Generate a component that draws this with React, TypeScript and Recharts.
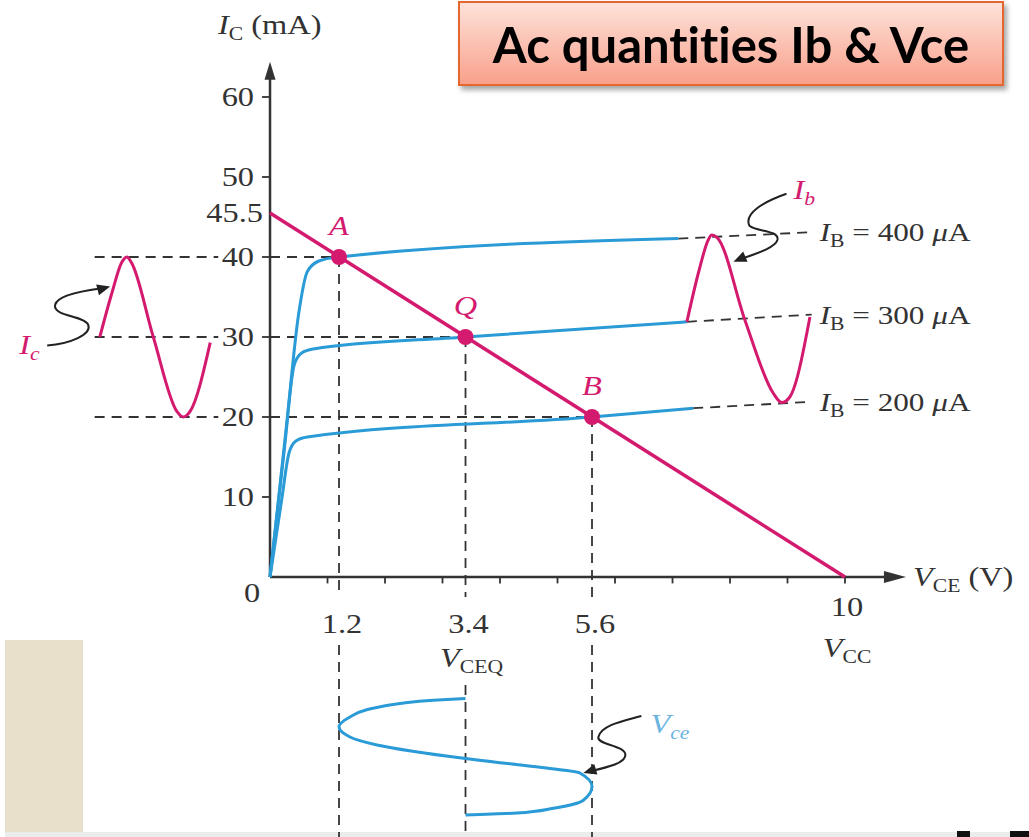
import React from "react";
import { ComposedChart, Line, XAxis, YAxis, ReferenceLine, ReferenceDot } from "recharts";

const W = 1029;
const H = 837;

// plot ranges in volts / milliamps; wide enough to hold the side waveforms
const vDomain: [number, number] = [-4.696, 13.2];
const iDomain: [number, number] = [-32.5, 72.125];

const yTicks = [10, 20, 30, 40, 50, 60];
const vTicks = [1, 2, 3, 4, 5, 6, 7, 8, 9, 10];
const vcc = 10;
const icSat = 45.5;

const loadLine = [
  { v: 0, i: icSat },
  { v: vcc, i: 0 },
];

const opPoints = [
  { name: "A", v: 1.2, i: 40 },
  { name: "Q", v: 3.4, i: 30 },
  { name: "B", v: 5.6, i: 20 },
];

// collector characteristics, one per base current
const ibLevels = [400, 300, 200];
const ib400 = [
  { v: 0, i: 0 }, { v: 0.28, i: 18.5 }, { v: 0.5, i: 33 }, { v: 0.65, i: 38.2 },
  { v: 0.85, i: 39.5 }, { v: 1.2, i: 40 }, { v: 7.1, i: 42.3 },
];
const ib300 = [
  { v: 0, i: 0 }, { v: 0.25, i: 16 }, { v: 0.42, i: 26.5 }, { v: 0.55, i: 28 },
  { v: 0.75, i: 28.5 }, { v: 3.4, i: 30 }, { v: 7.25, i: 31.9 },
];
const ib200 = [
  { v: 0, i: 0 }, { v: 0.2, i: 9.5 }, { v: 0.33, i: 15.5 }, { v: 0.45, i: 17 },
  { v: 0.65, i: 17.5 }, { v: 5.6, i: 20 }, { v: 7.36, i: 21.1 },
];
const ibCurves = [ib400, ib300, ib200];
const ibTails = [
  [{ v: 7.1, i: 42.3 }, { v: 9.42, i: 43.1 }],
  [{ v: 7.25, i: 31.9 }, { v: 9.42, i: 32.8 }],
  [{ v: 7.36, i: 21.1 }, { v: 9.42, i: 21.9 }],
];

// ac waveforms
const icWave = [
  { v: -2.96, i: 30 }, { v: -2.75, i: 35.5 }, { v: -2.58, i: 39.3 }, { v: -2.49, i: 40 },
  { v: -2.41, i: 39.3 }, { v: -2.03, i: 30 }, { v: -1.62, i: 20.7 }, { v: -1.51, i: 20 },
  { v: -1.39, i: 20.7 }, { v: -1.04, i: 29.3 },
];
const ibWave = [
  { v: 7.25, i: 31.9 }, { v: 7.45, i: 38 }, { v: 7.62, i: 42.1 }, { v: 7.68, i: 42.75 },
  { v: 7.78, i: 42.4 }, { v: 8.26, i: 32.1 }, { v: 8.75, i: 23 }, { v: 8.9, i: 21.8 },
  { v: 9.04, i: 22.5 }, { v: 9.39, i: 32.5 },
];
// drawn along the current axis (time runs downward)
const vceWave = [
  { v: 3.4, i: -29.75 }, { v: 4.29, i: -29.5 }, { v: 4.93, i: -28.9 }, { v: 5.45, i: -27.9 },
  { v: 5.6, i: -26.2 }, { v: 5.39, i: -24.5 }, { v: 4.58, i: -23.7 }, { v: 3.4, i: -22.7 },
  { v: 1.86, i: -21 }, { v: 1.39, i: -20 }, { v: 1.2, i: -18.7 }, { v: 1.39, i: -17.5 },
  { v: 1.68, i: -16.6 }, { v: 2.26, i: -15.8 }, { v: 2.84, i: -15.4 }, { v: 3.4, i: -15.2 },
];

const MAG = "#d41a6e";
const CYAN = "#2a9bd6";
const INK = "#333";
const DASH = "10 7";
const serif = "'Liberation Serif', 'Times New Roman', serif";
const SX = 1.2; // the serif lettering is set a little wide

const note = (key: string, v: number, i: number, draw: (x: number, y: number) => React.ReactElement) => (
  <ReferenceDot key={key} x={v} y={i} r={1} ifOverflow="visible" shape={(p: any) => draw(p.cx, p.cy)} />
);

// widened serif text anchored at (x, y)
const wide = (x: number, y: number, body: React.ReactNode, anchor: "start" | "middle" | "end" = "start", fill = INK, italic = false, size = 27) => (
  <g transform={`translate(${x},${y}) scale(${SX},1)`}>
    <text x={0} y={0} textAnchor={anchor} fontFamily={serif} fontSize={size} fill={fill} fontStyle={italic ? "italic" : undefined}>
      {body}
    </text>
  </g>
);

const sub = (s: string, italic = false) => (
  <tspan fontSize={18} dy={6} fontStyle={italic ? "italic" : "normal"}>{s}</tspan>
);

const seg = (key: string, a: { v: number; i: number }, b: { v: number; i: number }, dashed = true, color = INK, width = 1.8) => (
  <ReferenceLine
    key={key}
    segment={[{ x: a.v, y: a.i }, { x: b.v, y: b.i }]}
    stroke={color}
    strokeWidth={width}
    strokeDasharray={dashed ? DASH : undefined}
    ifOverflow="visible"
  />
);

const headPts = (dx: number, dy: number, len = 13, half = 5.5) => {
  const n = Math.hypot(dx, dy);
  const ux = dx / n;
  const uy = dy / n;
  const bx = -ux * len;
  const by = -uy * len;
  return `0,0 ${bx - uy * half},${by + ux * half} ${bx + uy * half},${by - ux * half}`;
};

// curly pointer from a label to a waveform; tip sits at the anchor
const pointer = (key: string, v: number, i: number, d: string, dir: [number, number], label: React.ReactElement) =>
  note(key, v, i, (x, y) => (
    <g transform={`translate(${x},${y})`}>
      <path d={d} fill="none" stroke="#222" strokeWidth={2} />
      <polygon points={headPts(dir[0], dir[1])} fill="#222" />
      {label}
    </g>
  ));

export default function App() {
  return (
    <div style={{ position: "absolute", left: 0, top: 0, width: W, height: H, background: "#fff", overflow: "hidden" }}>
      <div style={{ position: "absolute", left: 5, top: 640, width: 78, height: 192, background: "#e8e0cb" }} />
      <div style={{ position: "absolute", left: 5, top: 832, width: W - 5, height: 5, background: "#ececec" }} />
      <div style={{ position: "absolute", left: 957, top: 831, width: 13, height: 6, background: "#111" }} />
      <div style={{ position: "absolute", left: 1010, top: 831, width: 19, height: 6, background: "#111" }} />

      <ComposedChart width={W} height={H} margin={{ top: 0, right: 0, bottom: 0, left: 0 }} style={{ position: "absolute", left: 0, top: 0 }}>
        <XAxis type="number" dataKey="v" domain={vDomain} allowDataOverflow hide />
        <YAxis type="number" dataKey="i" domain={iDomain} allowDataOverflow hide />

        {/* guide lines to the axes */}
        {opPoints.map(p => seg(`hl${p.name}`, { v: 0, i: p.i }, p))}
        {opPoints.map(p => seg(`hw${p.name}`, { v: -3.05, i: p.i }, { v: -0.9, i: p.i }))}
        {opPoints.map(p => seg(`vu${p.name}`, p, { v: p.v, i: -2.5 }))}
        {opPoints.map(p => seg(`vd${p.name}`, { v: p.v, i: p.name === "Q" ? -13.5 : -8.5 }, { v: p.v, i: -32.5 }))}
        {ibTails.map((t, k) => seg(`tail${k}`, t[0], t[1]))}

        {/* axes */}
        {seg("xaxis", { v: 0, i: 0 }, { v: 10.9, i: 0 }, false, INK, 2.5)}
        {seg("yaxis", { v: 0, i: 0 }, { v: 0, i: 63 }, false, INK, 2.5)}
        {note("xarrow", 11.06, 0, (x, y) => <polygon transform={`translate(${x},${y})`} points={headPts(1, 0, 22, 6)} fill={INK} />)}
        {note("yarrow", 0, 64.4, (x, y) => <polygon transform={`translate(${x},${y})`} points={headPts(0, -1, 18, 5.5)} fill={INK} />)}
        {vTicks.map(t => seg(`xt${t}`, { v: t, i: 0 }, { v: t, i: -0.8 }, false, INK, 1.8))}
        {yTicks.map(t => seg(`yt${t}`, { v: -0.14, i: t }, { v: 0, i: t }, false, INK, 1.8))}

        {yTicks.map(t => note(`yl${t}`, 0, t, (x, y) => wide(x - 16, y + 9, t, "end")))}
        {note("ysat", 0, icSat, (x, y) => wide(x - 7, y + 9, icSat, "end"))}
        {note("x0", 0, 0, (x, y) => wide(x - 18, y + 25, 0, "middle"))}
        {opPoints.map(p => note(`xl${p.name}`, p.v, 0, (x, y) => wide(x + 3, y + 56, p.v, "middle")))}
        {note("x10", vcc, 0, (x, y) => (
          <g>
            {wide(x + 2, y + 39, vcc, "middle")}
            {wide(x + 2, y + 80, <><tspan fontStyle="italic">V</tspan>{sub("CC")}</>, "middle")}
          </g>
        ))}
        {note("vceq", 3.4, 0, (x, y) => wide(x + 6, y + 90, <><tspan fontStyle="italic">V</tspan>{sub("CEQ")}</>, "middle"))}
        {note("ytitle", 0, 64.4, (x, y) =>
          wide(x - 52, y - 28, <><tspan fontStyle="italic">I</tspan>{sub("C")}<tspan dy={-6}> (mA)</tspan></>)
        )}
        {note("xtitle", 11.06, 0, (x, y) =>
          wide(x + 7, y + 9, <><tspan fontStyle="italic">V</tspan>{sub("CE")}<tspan dy={-6}> (V)</tspan></>)
        )}
        {ibLevels.map((lvl, k) =>
          note(`ibl${lvl}`, ibTails[k][1].v, ibTails[k][1].i, (x, y) =>
            wide(x + 8, y + 9, (
              <>
                <tspan fontStyle="italic">I</tspan>
                {sub("B")}
                <tspan dy={-6}>{` = ${lvl} `}</tspan>
                <tspan fontStyle="italic">μ</tspan>
                <tspan>A</tspan>
              </>
            ), "start", INK, false, 26)
          )
        )}

        {/* characteristic curves */}
        {ibCurves.map((c, k) => (
          <Line key={`ib${k}`} data={c} dataKey="i" type="monotone" stroke={CYAN} strokeWidth={3} dot={false} activeDot={false} isAnimationActive={false} />
        ))}
        <Line data={vceWave} dataKey="i" type="monotoneY" stroke={CYAN} strokeWidth={3} dot={false} activeDot={false} isAnimationActive={false} />
        <Line data={icWave} dataKey="i" type="monotone" stroke={MAG} strokeWidth={3} dot={false} activeDot={false} isAnimationActive={false} />
        <Line data={ibWave} dataKey="i" type="monotone" stroke={MAG} strokeWidth={3} dot={false} activeDot={false} isAnimationActive={false} />

        {/* dc load line and operating points */}
        <Line data={loadLine} dataKey="i" type="linear" stroke={MAG} strokeWidth={3.5} dot={false} activeDot={false} isAnimationActive={false} />
        <Line
          data={opPoints}
          dataKey="i"
          stroke="none"
          dot={{ r: 8, fill: MAG, stroke: "none" }}
          activeDot={false}
          isAnimationActive={false}
          label={(p: any) => (
            <g key={`lbl${p.index}`}>{wide(p.x, p.y - 22, opPoints[p.index].name, "middle", MAG, true)}</g>
          )}
        />

        {pointer("pIc", -2.78, 36.3, "M -63 59 C -40 57 -18 48 -22 38 C -26 29 -58 30 -55 18 C -52 8 -25 4 -10 2", [23, -6],
          wide(-91, 67, <>I{sub("c", true)}</>, "start", MAG, true)
        )}
        {pointer("pIb", 8.06, 39.4, "M 53 -68 C 30 -60 10 -48 16 -36 C 22 -30 46 -32 44 -22 C 42 -14 22 -8 8 -3", [-23, 10],
          wide(60, -63, <>I{sub("b", true)}</>, "start", MAG, true)
        )}
        {pointer("pVce", 5.45, -24.5, "M 58 -57 C 40 -52 18 -48 15 -36 C 13 -28 42 -28 42 -18 C 42 -10 25 -6 8 -2", [-27, 8],
          wide(67, -40, <>V{sub("ce", true)}</>, "start", "#6bb4e2", true)
        )}
      </ComposedChart>

      <div
        style={{
          position: "absolute",
          left: 458,
          top: 1,
          width: 546,
          height: 85,
          boxSizing: "border-box",
          border: "2px solid #e5672f",
          background: "linear-gradient(to bottom, #fde2d9, #f9a08b)",
          boxShadow: "3px 4px 5px rgba(0,0,0,0.35)",
          display: "flex",
          alignItems: "center",
          justifyContent: "center",
          fontFamily: "Lato, 'Open Sans', sans-serif",
          fontWeight: 700,
          fontSize: 49,
          fontVariantLigatures: "none",
          color: "#000",
        }}
      >
        Ac quantities Ib &amp; Vce
      </div>
    </div>
  );
}
